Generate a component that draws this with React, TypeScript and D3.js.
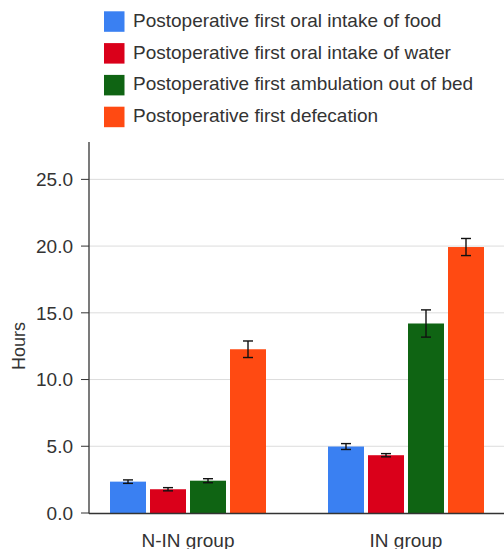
import React from "react";
import * as d3 from "d3";

const groups = ["N-IN group", "IN group"];
const series = [
  "Postoperative first oral intake of food",
  "Postoperative first oral intake of water",
  "Postoperative first ambulation out of bed",
  "Postoperative first defecation",
];
const colors = ["#3a80f2", "#da001a", "#0f6413", "#ff4a12"];
// values[seriesIndex][groupIndex]
const foodValues = [2.35, 4.98];
const waterValues = [1.78, 4.33];
const ambulationValues = [2.42, 14.2];
const defecationValues = [12.27, 19.93];
const foodErr = [0.13, 0.22];
const waterErr = [0.12, 0.12];
const ambulationErr = [0.15, 1.02];
const defecationErr = [0.62, 0.64];
const yTicks = [0, 5, 10, 15, 20, 25];

const values = [foodValues, waterValues, ambulationValues, defecationValues];
const errs = [foodErr, waterErr, ambulationErr, defecationErr];

export default function App() {
  const W = 504, H = 549;
  const axisX = 89;
  const y = d3.scaleLinear().domain([0, 27.8]).range([513, 142]);
  const x0 = d3.scaleBand().domain(groups).range([79, 515]).paddingInner(0).paddingOuter(0);
  const x1 = d3.scaleBand().domain(series).range([31, 187]).paddingInner(0.1).paddingOuter(0);
  const font = "'Liberation Sans', Arial, Helvetica, sans-serif";
  return (
    <svg width={W} height={H} style={{ position: "absolute", left: 0, top: 0, fontFamily: font }}>
      <rect width={W} height={H} fill="#fff" />
      {/* legend */}
      {series.map((s, i) => (
        <g key={s} transform={`translate(104, ${11.3 + i * 31.8})`}>
          <rect width={20.5} height={20.5} fill={colors[i]} />
          <text x={29} y={15.5} fontSize={19} fill="#333">{s}</text>
        </g>
      ))}
      {/* grid */}
      {yTicks.map((t) => (
        <g key={t}>
          {t > 0 && <line x1={axisX} x2={W} y1={y(t)} y2={y(t)} stroke="#dcdcdc" strokeWidth={1} />}
          <line x1={81} x2={axisX} y1={y(t)} y2={y(t)} stroke="#333" strokeWidth={1} />
          <text x={73} y={y(t)} dy="0.36em" textAnchor="end" fontSize={19} fill="#333">
            {t.toFixed(1)}
          </text>
        </g>
      ))}
      <text transform={`translate(25, 346) rotate(-90)`} textAnchor="middle" fontSize={18} fill="#333">Hours</text>
      {/* bars */}
      {groups.map((g, gi) => (
        <g key={g} transform={`translate(${x0(g)}, 0)`}>
          {series.map((s, si) => {
            const v = values[si][gi];
            const e = errs[si][gi];
            const bx = x1(s)!;
            const bw = x1.bandwidth();
            const cx = bx + bw / 2;
            return (
              <g key={s}>
                <rect x={bx} y={y(v)} width={bw} height={y(0) - y(v)} fill={colors[si]} />
                <line x1={cx} x2={cx} y1={y(v + e)} y2={y(v - e)} stroke="#111" strokeWidth={1.4} />
                <line x1={cx - 5} x2={cx + 5} y1={y(v + e)} y2={y(v + e)} stroke="#111" strokeWidth={1.4} />
                <line x1={cx - 5} x2={cx + 5} y1={y(v - e)} y2={y(v - e)} stroke="#111" strokeWidth={1.4} />
              </g>
            );
          })}
          <text x={x0.bandwidth() / 2} y={547} textAnchor="middle" fontSize={19} fill="#333">{g}</text>
        </g>
      ))}
      {/* axes */}
      <line x1={axisX} x2={axisX} y1={142} y2={513.5} stroke="#333" strokeWidth={1.3} />
      <line x1={axisX} x2={W} y1={513.5} y2={513.5} stroke="#333" strokeWidth={1.3} />
    </svg>
  );
}
